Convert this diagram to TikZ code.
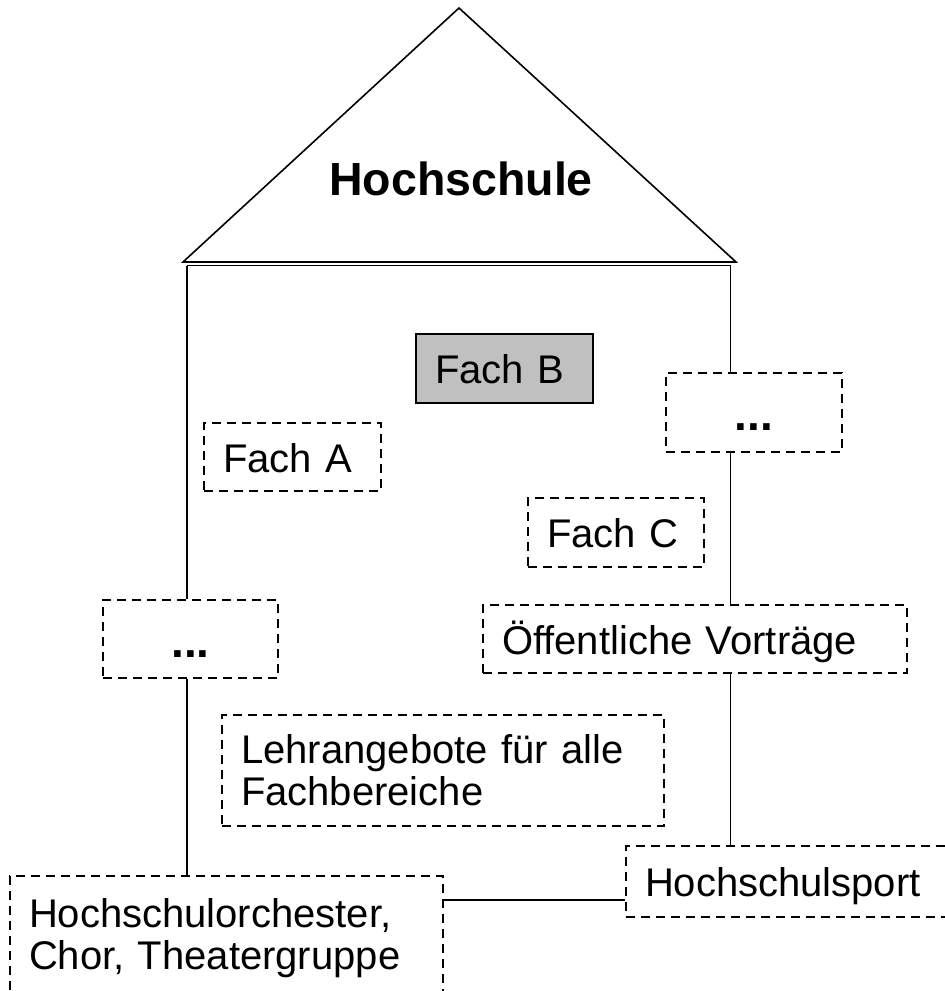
\documentclass[tikz,border=0pt]{standalone}
\usepackage{fontspec}
\setmainfont{Liberation Sans}
\definecolor{fachgray}{HTML}{C0C0C0}
\begin{document}
\begin{tikzpicture}[x=1pt,y=-1pt,
  ln/.style={line width=1.8pt},
  box/.style={draw, line width=1.8pt, dash pattern=on 9pt off 6pt, inner xsep=19pt, inner ysep=0pt, align=left, font=\fontsize{40}{42}\selectfont},
  one/.style={text height=38pt, text depth=8pt},
  dotbox/.style={draw, line width=1.8pt, dash pattern=on 9pt off 6pt, inner sep=0pt, font=\bfseries\fontsize{46}{50}\selectfont, text height=44pt, text depth=8pt}
]
\useasboundingbox (0,0) rectangle (945,991);
\coordinate (apex) at (459,8);
\coordinate (rl) at (183,262);
\coordinate (rr) at (736,262);
\coordinate (wl) at (187,265.5);
\coordinate (wr) at (730.5,265.5);
\coordinate (hl) at (0,900);
\draw[line width=1.6pt, line join=miter] (rl) -- (apex) -- (rr) -- cycle;
\draw[line width=1.6pt] (wl) -- (wr);
\node[font=\bfseries\fontsize{46.5}{50}\selectfont, anchor=base, inner sep=0pt] (title) at (461,195) {Hochschule};

\node[box, one, solid, fill=fachgray, line width=2.6pt, text width=139pt, minimum height=69pt] (B) at (504.5,368.5) {Fach B};
\node[box, one, text width=139pt, minimum height=68pt] (A) at (292.5,457) {Fach A};
\node[dotbox, minimum width=176pt, minimum height=79pt] (dotsR) at (754,412.5) {...};
\node[box, one, text width=138pt, minimum height=69pt] (C) at (616,532.5) {Fach C};
\node[dotbox, minimum width=175pt, minimum height=78pt] (dotsL) at (190.5,639) {...};
\node[box, one, text width=386pt, minimum height=68pt] (oeff) at (695,639) {Öffentliche Vorträge};
\node[box, text width=404pt, minimum height=111pt] (lehr) at (443,770.5) {Lehrangebote für alle\\Fachbereiche};
\node[box, text width=395pt, minimum height=124pt] (orch) at (226.5,938) {Hochschulorchester,\\Chor, Theatergruppe};
\node[box, one, text width=296pt, minimum height=71pt] (sport) at (793,881.5) {Hochschulsport};

\draw[ln] (wl) -- (wl |- dotsL.north);
\draw[ln] (wl |- dotsL.south) -- (wl |- orch.north);
\draw[ln] (wr) -- (wr |- dotsR.north);
\draw[ln] (wr |- dotsR.south) -- (wr |- oeff.north);
\draw[ln] (wr |- oeff.south) -- (wr |- sport.north);
\draw[ln] (orch.east |- hl) -- (sport.west |- hl);
\end{tikzpicture}
\end{document}
